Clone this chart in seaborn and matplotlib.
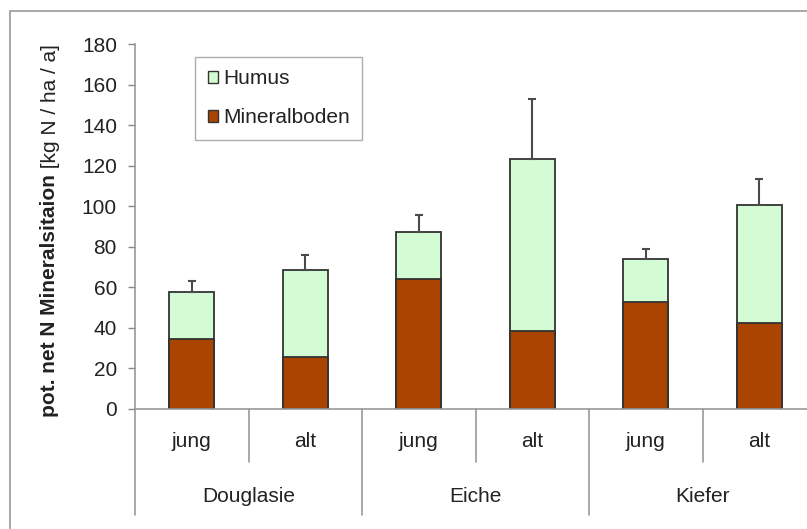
import numpy as np
import pandas as pd
import matplotlib
matplotlib.use("Agg")
import matplotlib.pyplot as plt
from matplotlib.patches import Patch, Rectangle
import seaborn as sns

# Daten
baumarten = ["Douglasie", "Eiche", "Kiefer"]
alter = ["jung", "alt"]
mineralboden = [34.5, 25.4, 64.0, 38.3, 52.9, 42.3]
humus = [23.2, 43.1, 23.3, 85.1, 21.2, 58.1]
fehler = [5.4, 7.5, 8.4, 29.3, 4.9, 12.8]

labels = [f"{b} {a}" for b in baumarten for a in alter]
gesamt = [m + h for m, h in zip(mineralboden, humus)]
df = pd.DataFrame({"gruppe": labels, "mineral": mineralboden, "gesamt": gesamt})

sns.set_theme(style="white")
plt.rcParams["font.family"] = ["Liberation Sans", "DejaVu Sans"]

col_humus = "#d4fcd4"
col_mineral = "#aa4400"
edge = "#333333"
txt = "#222222"
fs = 15

fig = plt.figure(figsize=(8.07, 5.29), dpi=100)
ax = fig.add_axes([135 / 807, 1 - 409 / 529, 681 / 807, 365 / 529])

sns.barplot(data=df, x="gruppe", y="gesamt", order=labels, color=col_humus,
            width=0.4, edgecolor=edge, linewidth=1.3, saturation=1, ax=ax)
sns.barplot(data=df, x="gruppe", y="mineral", order=labels, color=col_mineral,
            width=0.4, edgecolor=edge, linewidth=1.3, saturation=1, ax=ax)

pos = np.arange(len(labels))
ax.errorbar(pos, gesamt, yerr=[np.zeros(len(fehler)), fehler], fmt="none",
            ecolor="#4a4a4a", elinewidth=1.5, capsize=3, capthick=1.5, zorder=1)

ax.set_xlim(-0.5, 5.5)
ax.set_ylim(0, 180)
ax.set_yticks(np.arange(0, 181, 20))
ax.tick_params(axis="y", labelsize=fs, colors=txt, left=True, length=5,
               width=1, color="#888888", pad=8)
ax.set_xticks([])
ax.set_xlabel("")
ax.set_ylabel("")
for s in ["top", "right"]:
    ax.spines[s].set_visible(False)
for s in ["left", "bottom"]:
    ax.spines[s].set_color("#999999")
    ax.spines[s].set_linewidth(1.2)

# zweistufige x-Achse
trans = ax.get_xaxis_transform()
for i, lab in enumerate(labels):
    ax.text(i, -0.09, lab.split()[1], transform=trans, ha="center", va="center",
            fontsize=fs, color=txt)
for g, b in enumerate(baumarten):
    ax.text(2 * g + 0.5, -0.241, b, transform=trans, ha="center", va="center",
            fontsize=fs, color=txt)
for x in [0.5, 2.5, 4.5]:
    ax.plot([x, x], [0, -0.145], transform=trans, color="#999999", lw=1.2, clip_on=False)
for x in [-0.5, 1.5, 3.5, 5.5]:
    ax.plot([x, x], [0, -0.29], transform=trans, color="#999999", lw=1.2, clip_on=False)

# y-Beschriftung: fetter Teil + normaler Teil
t1 = fig.text(50 / 807, 1 - 417 / 529, "pot. net N Mineralsitaion", rotation=90,
              ha="center", va="bottom", fontsize=fs, fontweight="bold", color=txt)
ax.annotate(" [kg N / ha / a]", xy=(0.5, 1), xycoords=t1, rotation=90,
            ha="center", va="bottom", fontsize=fs, color=txt)

# Legende
handles = [Patch(facecolor=col_humus, edgecolor=edge, lw=1.0, label="Humus"),
           Patch(facecolor=col_mineral, edgecolor=edge, lw=1.0, label="Mineralboden")]
leg = ax.legend(handles=handles, loc="upper left", bbox_to_anchor=(195 / 807, 1 - 57 / 529),
                bbox_transform=fig.transFigure, borderaxespad=0, fontsize=fs,
                handlelength=0.5, handleheight=0.5, handletextpad=0.25,
                labelspacing=0.95, borderpad=0.6, fancybox=False, frameon=True)
leg.get_frame().set_edgecolor("#999999")
leg.get_frame().set_linewidth(1.0)
for t in leg.get_texts():
    t.set_color(txt)

# äußerer Rahmen
fig.patches.append(Rectangle((10 / 807, -0.1), 1.2, 1.1 - 11 / 529, transform=fig.transFigure,
                             fill=False, edgecolor="#999999", lw=1.2))

fig.savefig("out.png", dpi=100)
